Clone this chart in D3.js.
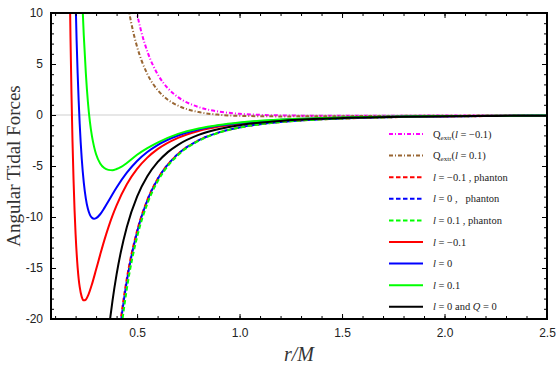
<!DOCTYPE html>
<html>
<head>
<meta charset="utf-8">
<script src="https://cdn.jsdelivr.net/npm/d3@7"></script>
<style>
body { margin: 0; background: #fff; }
</style>
</head>
<body>
<div id="graph"></div>
<script>
// values (r/M, tidal force)
var rRed = [0.17,0.175,0.18,0.185,0.19,0.195,0.2,0.21,0.215,0.22,0.23,0.24,0.25,0.26,0.28,0.30,0.32,0.34,0.36,0.38,0.40,0.45,0.5,0.55,0.6,0.7,0.8,0.9,1.0,1.2,1.4,1.6,1.8,2.0,2.25,2.5];
var vRed = [14.9,7.7,2.0,-2.65,-6.36,-9.35,-11.69,-14.96,-16.06,-16.86,-17.83,-18.17,-18.10,-17.74,-16.58,-15.15,-13.69,-12.29,-11.02,-9.87,-8.86,-6.79,-5.29,-4.18,-3.35,-2.24,-1.57,-1.14,-0.85,-0.51,-0.33,-0.225,-0.16,-0.118,-0.084,-0.062];

var rBlue = [0.195,0.2,0.205,0.21,0.215,0.22,0.23,0.24,0.25,0.26,0.27,0.28,0.29,0.30,0.32,0.34,0.36,0.38,0.40,0.45,0.5,0.55,0.6,0.7,0.8,0.9,1.0,1.2,1.4,1.6,1.8,2.0,2.25,2.5];
var vBlue = [15.9,11.25,7.3,4.1,1.4,-0.85,-4.29,-6.63,-8.19,-9.20,-9.79,-10.08,-10.18,-10.12,-9.73,-9.13,-8.45,-7.77,-7.11,-5.66,-4.51,-3.63,-2.95,-2.01,-1.42,-1.04,-0.78,-0.474,-0.307,-0.211,-0.150,-0.111,-0.079,-0.058];

var rGreen = [0.225,0.23,0.235,0.24,0.25,0.26,0.27,0.28,0.29,0.30,0.32,0.34,0.36,0.38,0.40,0.42,0.45,0.5,0.55,0.6,0.7,0.8,0.9,1.0,1.2,1.4,1.6,1.8,2.0,2.25,2.5];
var vGreen = [15.8,12.8,10.1,7.8,4.1,1.3,-0.7,-2.1,-3.1,-3.85,-4.75,-5.2,-5.38,-5.42,-5.3,-5.12,-4.7,-3.9,-3.25,-2.7,-1.85,-1.32,-0.97,-0.73,-0.445,-0.29,-0.2,-0.142,-0.106,-0.075,-0.056];

var rBlack = [0.36,0.37,0.38,0.4,0.42,0.45,0.5,0.55,0.6,0.65,0.7,0.8,0.9,1.0,1.2,1.4,1.6,1.8,2.0,2.25,2.5];
var vBlack = [-21.43,-19.74,-18.22,-15.63,-13.50,-10.97,-8,-6.01,-4.63,-3.64,-2.92,-1.95,-1.37,-1,-0.579,-0.364,-0.244,-0.171,-0.125,-0.088,-0.064];

var rPhantom = [0.41,0.42,0.43,0.45,0.5,0.55,0.6,0.65,0.7,0.8,0.9,1.0,1.2,1.4,1.6,1.8,2.0,2.25,2.5];
var vRedPhantom = [-21.79,-20.12,-18.62,-16.03,-11.35,-8.32,-6.27,-4.85,-3.82,-2.49,-1.72,-1.229,-0.693,-0.428,-0.283,-0.196,-0.142,-0.099,-0.071];
var vBluePhantom = [-22.22,-20.51,-18.96,-16.29,-11.49,-8.39,-6.31,-4.86,-3.82,-2.49,-1.70,-1.218,-0.684,-0.421,-0.277,-0.192,-0.139,-0.096,-0.070];
var vGreenPhantom = [-23.35,-21.52,-19.87,-17.04,-11.96,-8.70,-6.52,-5.01,-3.92,-2.54,-1.73,-1.235,-0.689,-0.423,-0.278,-0.192,-0.138,-0.096,-0.069];

var rQm = [0.48,0.5,0.52,0.55,0.6,0.65,0.7,0.8,0.9,1.0,1.1,1.2,1.4,1.6,1.8,2.0,2.25,2.5];
var vQm = [12.06,9.92,8.21,6.23,4.01,2.63,1.75,0.78,0.335,0.12,0.014,-0.039,-0.073,-0.073,-0.065,-0.055,-0.044,-0.035];
var rQp = [0.45,0.46,0.48,0.5,0.55,0.6,0.65,0.7,0.8,0.9,1.0,1.2,1.4,1.6,1.8,2.0,2.25,2.5];
var vQp = [11.42,10.23,8.25,6.69,4.02,2.45,1.50,0.91,0.29,0.027,-0.082,-0.136,-0.125,-0.104,-0.084,-0.068,-0.052,-0.041];

var xTicks = [0.5,1.0,1.5,2.0,2.5];
var yTicks = [-20,-15,-10,-5,0,5,10];

// label pieces: [text, style]  (i = italic, s = subscript)
var legendLabels = [
  [["Q",""],["extr","s"],["(",""],["l","i"],[" = \u22120.1)",""]],
  [["Q",""],["extr","s"],["(",""],["l","i"],[" = 0.1)",""]],
  [["l","i"],[" = \u22120.1 , phanton",""]],
  [["l","i"],[" = 0 ,\u00a0\u00a0\u00a0phanton",""]],
  [["l","i"],[" = 0.1 , phanton",""]],
  [["l","i"],[" = \u22120.1",""]],
  [["l","i"],[" = 0",""]],
  [["l","i"],[" = 0.1",""]],
  [["l","i"],[" = 0 and ",""],["Q","i"],[" = 0",""]]
];

var series = [
  {r: rQm, v: vQm, color: "#ff00ff", dash: "4,2,1,2"},
  {r: rQp, v: vQp, color: "#996633", dash: "4,2,1,2"},
  {r: rPhantom, v: vRedPhantom, color: "#ff0000", dash: "4.5,2.5"},
  {r: rPhantom, v: vBluePhantom, color: "#0000ff", dash: "4.5,2.5"},
  {r: rPhantom, v: vGreenPhantom, color: "#00ff00", dash: "4.5,2.5"},
  {r: rRed, v: vRed, color: "#ff0000", dash: null},
  {r: rBlue, v: vBlue, color: "#0000ff", dash: null},
  {r: rGreen, v: vGreen, color: "#00ff00", dash: null},
  {r: rBlack, v: vBlack, color: "#000000", dash: null}
];

var margin = {top: 13, right: 9, bottom: 52, left: 51},
    width = 556 - margin.left - margin.right,
    height = 371 - margin.top - margin.bottom;

var x = d3.scaleLinear().domain([0.08, 2.5]).range([0, width]);
var y = d3.scaleLinear().domain([-20, 10]).range([height, 0]);

var svg = d3.select("#graph").append("svg")
    .attr("width", 556)
    .attr("height", 371)
    .style("font-family", "'Liberation Sans', Arial, sans-serif");

var g = svg.append("g")
    .attr("transform", "translate(" + margin.left + "," + margin.top + ")");

g.append("clipPath").attr("id", "clip")
  .append("rect").attr("width", width).attr("height", height);

// zero line
g.append("line")
    .attr("x1", 0).attr("x2", width)
    .attr("y1", y(0)).attr("y2", y(0))
    .attr("stroke", "#cfcfcf").attr("stroke-width", 1);

var line = d3.line()
    .x(function(d) { return x(d[0]); })
    .y(function(d) { return y(d[1]); })
    .curve(d3.curveMonotoneX);

var curves = g.append("g").attr("clip-path", "url(#clip)");
series.forEach(function(s) {
  var pts = s.r.map(function(r, i) { return [r, s.v[i]]; });
  curves.append("path")
      .datum(pts)
      .attr("d", line)
      .attr("fill", "none")
      .attr("stroke", s.color)
      .attr("stroke-width", 2)
      .attr("stroke-dasharray", s.dash);
});

// axes, ticks pointing inwards
function styleAxis(sel) {
  sel.select(".domain").remove();
  sel.selectAll("line").attr("stroke", "#000");
  sel.selectAll("text").attr("fill", "#222").style("font-size", "12px");
}
var xMinor = d3.range(1, 25).map(function(i) { return i / 10; });
var yMinor = d3.range(-20, 11);

g.append("g").attr("transform", "translate(0," + height + ")")
  .call(d3.axisBottom(x).tickValues(xMinor).tickSize(-3).tickFormat(""))
  .call(styleAxis);
g.append("g").attr("transform", "translate(0," + height + ")")
  .call(d3.axisBottom(x).tickValues(xTicks).tickSize(-5).tickPadding(9).tickFormat(d3.format(".1f")))
  .call(styleAxis);
g.append("g")
  .call(d3.axisTop(x).tickValues(xMinor).tickSize(-3).tickFormat(""))
  .call(styleAxis);
g.append("g")
  .call(d3.axisTop(x).tickValues(xTicks).tickSize(-5).tickFormat(""))
  .call(styleAxis);

g.append("g")
  .call(d3.axisLeft(y).tickValues(yMinor).tickSize(-3).tickFormat(""))
  .call(styleAxis);
g.append("g")
  .call(d3.axisLeft(y).tickValues(yTicks).tickSize(-5).tickPadding(8).tickFormat(function(d) { return String(d); }))
  .call(styleAxis);
g.append("g").attr("transform", "translate(" + width + ",0)")
  .call(d3.axisRight(y).tickValues(yMinor).tickSize(-3).tickFormat(""))
  .call(styleAxis);
g.append("g").attr("transform", "translate(" + width + ",0)")
  .call(d3.axisRight(y).tickValues(yTicks).tickSize(-5).tickFormat(""))
  .call(styleAxis);

// frame
g.append("rect")
    .attr("width", width).attr("height", height)
    .attr("fill", "none").attr("stroke", "#000").attr("stroke-width", 2);

// axis titles
svg.append("text")
    .attr("transform", "translate(20," + (margin.top + height / 2) + ") rotate(-90)")
    .attr("text-anchor", "middle")
    .style("font-family", "'Liberation Serif', 'Times New Roman', serif")
    .style("font-size", "19px")
    .attr("fill", "#333")
    .text("Angular Tidal Forces");

svg.append("text")
    .attr("x", margin.left + width / 2)
    .attr("y", 361)
    .attr("text-anchor", "middle")
    .style("font-family", "'Liberation Serif', 'Times New Roman', serif")
    .style("font-size", "20px")
    .style("font-style", "italic")
    .attr("fill", "#333")
    .text("r/M");

// legend
var legend = svg.append("g");
series.forEach(function(s, i) {
  var ly = 134 + i * 21.6;
  legend.append("line")
      .attr("x1", 389).attr("x2", 423)
      .attr("y1", ly).attr("y2", ly)
      .attr("stroke", s.color).attr("stroke-width", 2)
      .attr("stroke-dasharray", s.dash);
  var t = legend.append("text")
      .attr("x", 433).attr("y", ly + 3.5)
      .style("font-family", "'Liberation Serif', 'Times New Roman', serif")
      .style("font-size", "10.5px")
      .attr("fill", "#222");
  var prev = "";
  legendLabels[i].forEach(function(p) {
    var ts = t.append("tspan").text(p[0]);
    if (p[1] === "i") ts.style("font-style", "italic");
    if (p[1] === "s") ts.style("font-size", "7px").attr("dy", 2);
    if (p[1] !== "s" && prev === "s") ts.attr("dy", -2);
    prev = p[1];
  });
});
</script>
</body>
</html>
